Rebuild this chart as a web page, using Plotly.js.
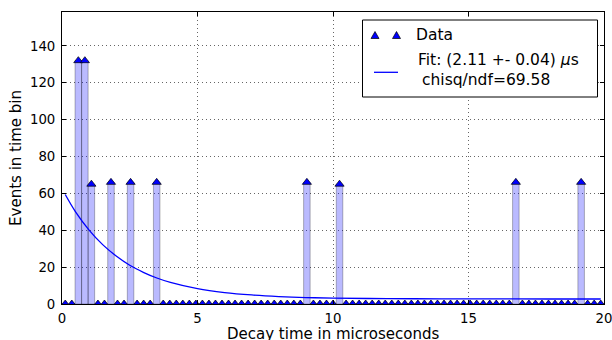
<!DOCTYPE html>
<html>
<head>
<meta charset="utf-8">
<script src="https://cdn.plot.ly/plotly-3.0.1.min.js"></script>
<style>
  html, body { margin: 0; padding: 0; background: #fff; }
  #chart { width: 612px; height: 340px; }
</style>
</head>
<body>
<div id="chart"></div>
<script>
// Muon decay-time histogram: 83 equal bins spanning 0-20 microseconds
const binCount = 83;
const timeMax = 20;

// Events per time bin
const counts = [
  0, 0, 132, 132, 65, 0, 0, 66, 0, 0,
  66, 0, 0, 0, 66, 0, 0, 0, 0, 0,
  0, 0, 0, 0, 0, 0, 0, 0, 0, 0,
  0, 0, 0, 0, 0, 0, 0, 66, 0, 0,
  0, 0, 65, 0, 0, 0, 0, 0, 0, 0,
  0, 0, 0, 0, 0, 0, 0, 0, 0, 0,
  0, 0, 0, 0, 0, 0, 0, 0, 0, 66,
  0, 0, 0, 0, 0, 0, 0, 0, 0, 66,
  0, 0, 0
];

// Exponential fit curve (decay time in microseconds, events per bin)
const fitTime = [0.12, 0.5, 1, 1.5, 2, 2.5, 3, 3.5, 4, 5, 6, 7, 8, 9, 10, 12, 14, 16, 18, 19.88];
const fitEvents = [59.4, 50.0, 40.1, 32.2, 26.0, 21.0, 17.2, 14.1, 11.7, 8.3, 6.2, 4.9, 4.05, 3.5, 3.2, 2.9, 2.8, 2.75, 2.7, 2.7];

// Axis and legend text
const xTitle = 'Decay time in microseconds';
const yTitle = 'Events in time bin';
const dataLabel = 'Data';
const fitLabel = 'Fit: (2.11 +- 0.04) <i>\u03bc</i>s';
const chiLabel = 'chisq/ndf=69.58';

const binWidth = timeMax / binCount;
const binCenters = counts.map((_, i) => (i + 0.5) * binWidth);

const FONT = 'DejaVu Sans, Verdana, sans-serif';

const bars = {
  type: 'bar',
  x: binCenters,
  y: counts,
  width: binWidth,
  marker: { color: 'rgba(0,0,255,0.27)', line: { color: 'rgba(0,0,0,0.28)', width: 1 } },
  hoverinfo: 'skip',
  showlegend: false
};

const points = {
  type: 'scatter',
  mode: 'markers',
  x: binCenters,
  y: counts,
  marker: { symbol: 'triangle-up', size: 8, color: '#0000ff', line: { color: '#000', width: 0.7 } },
  cliponaxis: true,
  showlegend: false
};

const fit = {
  type: 'scatter',
  mode: 'lines',
  x: fitTime,
  y: fitEvents,
  line: { color: '#0000ff', width: 1.3, shape: 'spline' },
  showlegend: false
};

// Plot area is 542 x 292 px; helpers convert pixel positions to paper units
const L = 62, T = 12, W = 542, H = 292;
const px = x => (x - L) / W;
const py = y => (T + H - y) / H;

function tri(xp, yp) {
  return {
    type: 'path', xref: 'paper', yref: 'paper',
    xsizemode: 'pixel', ysizemode: 'pixel',
    xanchor: px(xp), yanchor: py(yp),
    path: 'M-4,-3 L4,-3 L0,4 Z',
    fillcolor: '#0000ff', line: { color: '#000', width: 0.7 }
  };
}

const shapes = [
  { type: 'rect', xref: 'paper', yref: 'paper',
    x0: px(362.5), x1: px(597.5), y0: py(97), y1: py(20),
    fillcolor: '#fff', line: { color: '#000', width: 1 } },
  tri(375, 35.5),
  tri(396.5, 35.5),
  { type: 'line', xref: 'paper', yref: 'paper',
    x0: px(374), x1: px(398), y0: py(72.3), y1: py(72.3),
    line: { color: '#0000ff', width: 1.3 } }
];

const legendFont = { family: FONT, size: 15.5, color: '#000' };
const annotations = [
  { xref: 'paper', yref: 'paper', x: px(414), y: py(35), xanchor: 'left', yanchor: 'middle',
    text: dataLabel, showarrow: false, font: legendFont },
  { xref: 'paper', yref: 'paper', x: px(416), y: py(60), xanchor: 'left', yanchor: 'middle',
    text: fitLabel, showarrow: false, font: legendFont },
  { xref: 'paper', yref: 'paper', x: px(419.5), y: py(80), xanchor: 'left', yanchor: 'middle',
    text: chiLabel, showarrow: false, font: legendFont },
  // x-axis title sits partly below the bottom edge of the page
  { xref: 'paper', yref: 'paper', x: 0.5, y: py(333.5), xanchor: 'center', yanchor: 'middle',
    text: xTitle, showarrow: false, font: { family: FONT, size: 15, color: '#000' } }
];

const axisCommon = {
  showline: true, linecolor: '#000', linewidth: 1, mirror: 'ticks',
  ticks: 'inside', ticklen: 4, tickcolor: '#000', tickwidth: 1,
  showgrid: true, gridcolor: 'rgba(0,0,0,0.6)', gridwidth: 1, griddash: '1px,3px',
  zeroline: false, ticklabeloverflow: 'allow',
  tickfont: { family: FONT, size: 13.3, color: '#000' }
};

const layout = {
  width: 612, height: 340,
  margin: { l: L, r: 612 - L - W, t: T, b: 340 - T - H },
  paper_bgcolor: '#fff', plot_bgcolor: '#fff',
  showlegend: false,
  bargap: 0,
  xaxis: Object.assign({}, axisCommon, {
    range: [0, timeMax], tickvals: [0, 5, 10, 15, 20], ticklabelstandoff: 2
  }),
  yaxis: Object.assign({}, axisCommon, {
    range: [0, 158.4], tickvals: [0, 20, 40, 60, 80, 100, 120, 140], ticklabelstandoff: 3,
    title: { text: yTitle, font: { family: FONT, size: 15, color: '#000' }, standoff: 4 }
  }),
  shapes: shapes,
  annotations: annotations
};

Plotly.newPlot('chart', [bars, points, fit], layout, { staticPlot: true, displayModeBar: false });
</script>
</body>
</html>
